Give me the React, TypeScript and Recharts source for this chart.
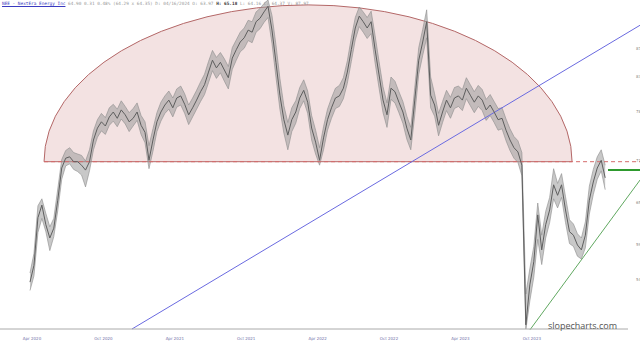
import React from 'react';
import { ComposedChart, Line, Area, XAxis, YAxis, ReferenceArea, ReferenceLine } from 'recharts';

// closing prices, roughly every 1/3 month starting late Mar 2020
const closes = [
  53.7, 56.1, 62.9, 64.7, 61.9, 60.0, 61.4, 65.4, 70.0, 71.4, 71.6, 70.9, 70.9, 70.4, 69.7, 70.9, 74.0,
  75.7, 76.6, 76.0, 77.3, 78.0, 77.1, 78.3, 77.6, 76.6, 77.1, 78.0, 76.1, 75.1, 71.1, 74.0, 76.6,
  78.0, 79.0, 79.7, 78.6, 80.0, 80.3, 79.1, 77.6, 78.6, 79.7, 80.9, 81.9, 83.7, 85.4, 84.3, 85.1,
  84.0, 82.9, 85.7, 86.9, 88.0, 88.6, 89.7, 89.4, 90.9, 91.4, 92.3, 93.1, 89.7, 85.1, 80.4, 76.9,
  74.7, 76.9, 78.0, 80.0, 81.1, 79.4, 75.7, 73.7, 71.1, 74.3, 76.9, 78.6, 80.0, 80.3, 81.4, 83.7,
  86.9, 90.0, 91.7, 90.9, 90.0, 90.9, 86.9, 83.3, 79.7, 77.6, 81.4, 80.9, 79.4, 78.0, 75.7, 74.0,
  79.7, 85.4, 88.0, 90.9, 80.4, 79.0, 76.1, 78.0, 79.7, 78.6, 80.0, 80.3, 79.7, 81.4, 80.4, 79.4,
  80.3, 79.7, 78.3, 79.0, 78.0, 76.9, 77.1, 75.4, 74.0, 72.9, 72.3, 70.4, 47.6, 53.3, 56.6, 63.3,
  58.3, 61.9, 64.0, 67.6, 66.1, 67.6, 64.0, 60.9, 60.4, 59.0, 58.3, 60.4, 65.4, 68.0, 70.0, 71.1,
  68.6,
];
const highs = [
  55.0, 57.8, 64.6, 65.6, 63.5, 61.6, 62.8, 67.0, 71.2, 72.5, 72.9, 72.2, 72.0, 71.8, 71.0, 72.6, 75.3,
  76.9, 77.8, 77.2, 78.6, 79.1, 78.4, 79.6, 78.8, 77.9, 78.5, 79.3, 77.5, 76.6, 73.2, 75.6, 77.9,
  79.4, 80.3, 81.0, 80.0, 81.3, 81.7, 80.6, 79.0, 80.0, 81.1, 82.3, 83.4, 85.2, 86.8, 85.8, 86.5,
  85.6, 84.5, 87.2, 88.3, 89.4, 90.0, 91.1, 90.9, 92.3, 92.8, 93.5, 94.0, 91.8, 87.6, 82.8, 78.9,
  76.5, 78.6, 79.6, 81.5, 82.6, 81.0, 77.5, 75.4, 72.9, 75.9, 78.4, 80.0, 81.4, 81.8, 82.9, 85.3,
  88.6, 91.5, 93.0, 92.3, 91.5, 92.4, 88.9, 85.2, 81.6, 79.3, 83.0, 82.4, 80.9, 79.5, 77.4, 75.8,
  81.5, 87.2, 89.8, 92.6, 83.0, 80.6, 77.8, 79.5, 81.1, 80.1, 81.5, 81.7, 81.2, 82.9, 81.9, 80.9,
  81.8, 81.2, 79.8, 80.5, 79.5, 78.5, 78.6, 77.0, 75.6, 74.5, 73.9, 72.2, 52.0, 55.6, 58.8, 65.0,
  60.4, 63.8, 65.8, 69.9, 67.8, 69.2, 65.9, 62.6, 62.0, 60.6, 60.0, 62.3, 67.4, 69.8, 71.6, 72.6,
  70.4,
];
const lows = [
  52.5, 54.6, 60.8, 62.8, 60.9, 58.2, 60.2, 63.9, 68.4, 70.3, 70.6, 69.8, 69.5, 69.0, 67.3, 69.6, 72.6,
  74.4, 75.3, 74.8, 76.1, 76.7, 75.9, 77.0, 76.3, 75.2, 76.0, 76.8, 74.8, 73.6, 69.9, 72.4, 75.2,
  76.7, 77.8, 78.4, 77.3, 78.7, 79.0, 77.8, 76.2, 77.3, 78.4, 79.5, 80.5, 82.2, 83.9, 82.8, 83.6,
  82.4, 81.3, 84.1, 85.4, 86.6, 87.1, 88.2, 87.9, 89.4, 89.9, 90.8, 91.5, 87.8, 83.0, 78.4, 75.0,
  72.6, 75.2, 76.4, 78.5, 79.6, 77.8, 74.0, 72.0, 70.4, 72.6, 75.4, 77.1, 78.5, 78.8, 79.9, 82.1,
  85.2, 88.3, 90.2, 89.4, 88.5, 89.2, 85.0, 81.4, 77.9, 75.8, 79.8, 79.3, 77.9, 76.4, 74.1, 72.6,
  77.6, 83.4, 86.1, 88.6, 78.6, 77.4, 74.6, 76.5, 78.2, 77.1, 78.5, 78.8, 78.2, 79.9, 78.9, 77.9,
  78.8, 78.2, 76.8, 77.5, 76.5, 75.4, 75.6, 73.9, 72.5, 71.4, 70.8, 68.9, 46.9, 51.0, 54.4, 59.8,
  56.2, 60.0, 62.2, 65.6, 64.3, 65.8, 62.2, 59.2, 58.8, 57.4, 57.0, 58.6, 63.4, 66.2, 68.4, 69.6,
  66.9,
];
const months = closes.map((_, i) => 2.83 + i / 3);

const tickMonths = [3, 9, 15, 21, 27, 33, 39, 45];
const tickLabels = ['Apr 2020', 'Oct 2020', 'Apr 2021', 'Oct 2021', 'Apr 2022', 'Oct 2022', 'Apr 2023', 'Oct 2023'];
const priceTicks = [54, 59, 65, 71, 78, 83, 87];

// drawn objects
const arcRange = { x1: 4.01, x2: 48.38, y1: 70.9, y2: 93.3 };
const resistance = 70.9;
const channelTop = 69.7;
const blueTrend = [{ x: 11.4, y: 47 }, { x: 54.1, y: 90.4 }];
const greenTrend = [{ x: 44.85, y: 46.9 }, { x: 54.1, y: 68.3 }];

const rows = closes.map((c, i) => ({ m: months[i], close: c, range: [lows[i], highs[i]] }));

const ArcShape = (props: any) => {
  const { x, y, width, height } = props;
  const d = `M ${x} ${y + height} A ${width / 2} ${height} 0 0 1 ${x + width} ${y + height} Z`;
  return <path d={d} fill="#f3e2e2" stroke="#b46868" strokeWidth={1} />;
};

export default function App() {
  return (
    <div style={{ position: 'absolute', left: 0, top: 0, width: 640, height: 343, background: '#fff', overflow: 'hidden' }}>
      <ComposedChart width={640} height={343} data={rows} margin={{ top: 0, right: 0, left: 0, bottom: 0 }}>
        <XAxis
          dataKey="m"
          type="number"
          domain={[0.31, 53.08]}
          allowDataOverflow
          ticks={tickMonths}
          tickFormatter={(v: number) => tickLabels[tickMonths.indexOf(v)] ?? ''}
          tick={{ fontSize: 4, fill: '#7070a8', fontFamily: 'DejaVu Sans' }}
          tickLine={false}
          axisLine={{ stroke: '#aaaaaa' }}
          height={14}
        />
        <YAxis
          orientation="right"
          type="number"
          domain={[47, 94]}
          allowDataOverflow
          ticks={priceTicks}
          tick={{ fontSize: 4, fill: '#888', fontFamily: 'DejaVu Sans' }}
          tickLine={false}
          axisLine={false}
          width={12}
        />
        <ReferenceArea {...arcRange} ifOverflow="visible" shape={ArcShape} />
        <ReferenceLine
          segment={[{ x: arcRange.x1, y: resistance }, { x: 54.1, y: resistance }]}
          stroke="#d46a6a"
          strokeDasharray="4 3"
          strokeWidth={1}
          ifOverflow="visible"
        />
        <ReferenceLine segment={blueTrend} stroke="#6a6ae0" strokeWidth={1} ifOverflow="visible" />
        <ReferenceLine segment={greenTrend} stroke="#60a860" strokeWidth={1} ifOverflow="visible" />
        <ReferenceLine
          segment={[{ x: 51.4, y: channelTop }, { x: 54.1, y: channelTop }]}
          stroke="#2e9a2e"
          strokeWidth={2}
          ifOverflow="visible"
        />
        <Area
          dataKey="range"
          stroke="#8c8c8c"
          strokeWidth={0.6}
          fill="#9a9a9a"
          fillOpacity={0.55}
          dot={false}
          activeDot={false}
          isAnimationActive={false}
          type="linear"
        />
        <Line
          dataKey="close"
          stroke="#5e5e5e"
          strokeWidth={1}
          dot={false}
          activeDot={false}
          isAnimationActive={false}
          type="linear"
        />
      </ComposedChart>
      <div
        style={{
          position: 'absolute', left: 2, top: 2, fontFamily: 'DejaVu Sans Mono', fontSize: 4.4,
          color: '#999', whiteSpace: 'nowrap', lineHeight: 1,
        }}
      >
        <span style={{ color: '#3a3ac0', textDecoration: 'underline' }}>NEE - NextEra Energy Inc</span>
        {' 64.90 0.31 0.48% (64.29 x 64.35) D: 04/16/2024 O: 63.97 '}
        <span style={{ color: '#333', fontWeight: 'bold' }}>H: 65.18</span>
        {' L: 64.16 C: 64.37 V: 87.97'}
      </div>
      <div
        style={{
          position: 'absolute', left: 548, top: 321, fontFamily: 'Open Sans', fontSize: 9,
          color: '#555', whiteSpace: 'nowrap', lineHeight: 1,
        }}
      >
        slopecharts.com
      </div>
    </div>
  );
}
